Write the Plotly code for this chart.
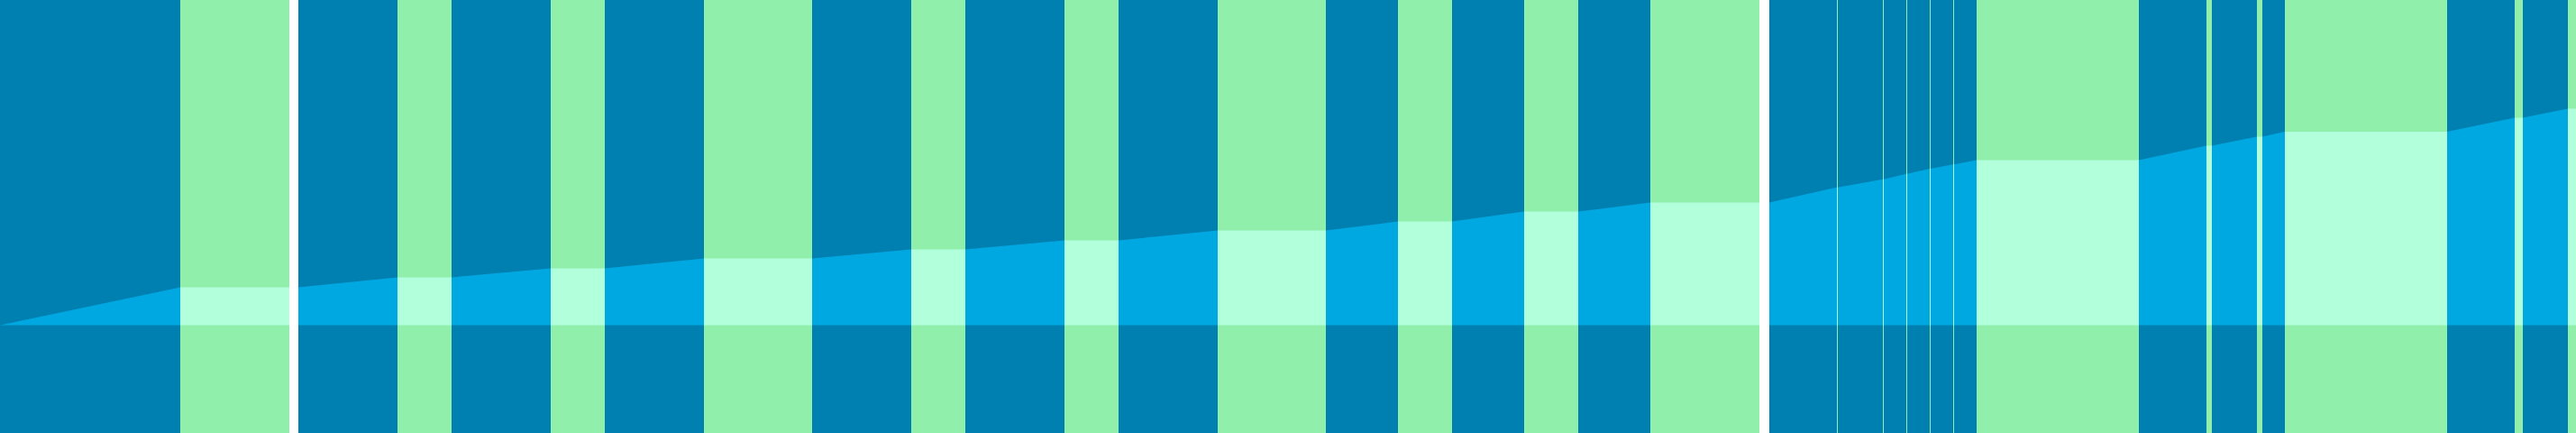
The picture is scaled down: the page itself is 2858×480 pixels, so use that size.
import plotly.graph_objects as go

# %% band data: start / end position, kind (d = rising, g = flat), level at start / end
band_start = [0, 200, 331, 441, 501, 611, 671, 781, 901, 1011, 1071, 1181, 1241, 1351,
              1471, 1551, 1611, 1691, 1751, 1831, 1963, 2038, 2039, 2089, 2090, 2115,
              2116, 2141, 2142, 2167, 2168, 2193, 2373, 2448, 2454, 2504, 2510, 2535,
              2715, 2790, 2799, 2849]
band_end = [200, 321, 441, 501, 611, 671, 781, 901, 1011, 1071, 1181, 1241, 1351, 1471,
            1551, 1611, 1691, 1751, 1831, 1952, 2038, 2039, 2089, 2090, 2115, 2116,
            2141, 2142, 2167, 2168, 2193, 2373, 2448, 2454, 2504, 2510, 2535, 2715,
            2790, 2799, 2849, 2858]
band_kind = ['d', 'g', 'd', 'g', 'd', 'g', 'd', 'g', 'd', 'g', 'd', 'g', 'd', 'g',
             'd', 'g', 'd', 'g', 'd', 'g', 'd', 'g', 'd', 'g', 'd', 'g',
             'd', 'g', 'd', 'g', 'd', 'g', 'd', 'g', 'd', 'g', 'd', 'g',
             'd', 'g', 'd', 'g']
level_start = [0, 42, 42, 53, 53, 63, 63, 74, 74, 84, 84, 94, 94, 105,
               105, 115, 115, 126, 126, 136, 136, 152.8, 152.8, 161.8, 161.8, 167.8,
               167.8, 173.5, 173.5, 178.2, 178.2, 183, 183, 199, 199, 209, 209, 214.5,
               214.5, 230, 230, 240]
level_end = [42, 42, 53, 53, 63, 63, 74, 74, 84, 84, 94, 94, 105, 105,
             115, 115, 126, 126, 136, 136, 152.8, 152.8, 161.8, 161.8, 167.8, 167.8,
             173.5, 173.5, 178.2, 178.2, 183, 183, 199, 199, 209, 209, 214.5, 214.5,
             230, 230, 240, 240]

y_bottom = -119.5
y_top = 360.5

colors = {'d': '#0080B0', 'g': '#8FEFAB'}
area_colors = {'d': '#00A8E2', 'g': '#B2FFDB'}

fig = go.Figure()

# background bands, full height
fig.add_trace(go.Bar(
    x=[(s + e) / 2 for s, e in zip(band_start, band_end)],
    y=[y_top - y_bottom] * len(band_start),
    base=y_bottom,
    width=[e - s for s, e in zip(band_start, band_end)],
    marker=dict(color=[colors[k] for k in band_kind], line=dict(width=0)),
    hoverinfo='skip',
    showlegend=False,
))

# area under the level, one polygon per band, split by kind
for kind in ['d', 'g']:
    xs, ys = [], []
    for s, e, k, v0, v1 in zip(band_start, band_end, band_kind, level_start, level_end):
        if k != kind:
            continue
        xs += [s, s, e, e, None]
        ys += [0, v0, v1, 0, None]
    fig.add_trace(go.Scatter(
        x=xs, y=ys,
        mode='lines',
        fill='toself',
        fillcolor=area_colors[kind],
        line=dict(width=0, color=area_colors[kind]),
        hoverinfo='skip',
        showlegend=False,
    ))

fig.update_xaxes(range=[0, 2858], visible=False, showgrid=False, zeroline=False)
fig.update_yaxes(range=[y_bottom, y_top], visible=False, showgrid=False, zeroline=False)

fig.update_layout(
    width=2858,
    height=480,
    margin=dict(l=0, r=0, t=0, b=0),
    paper_bgcolor='white',
    plot_bgcolor='white',
    barmode='overlay',
    showlegend=False,
)

# drop the page's default body margin so the chart sits at the corner
fig.write_html("out.html", post_script="document.body.style.margin='0px';",
               config={'displayModeBar': False})
